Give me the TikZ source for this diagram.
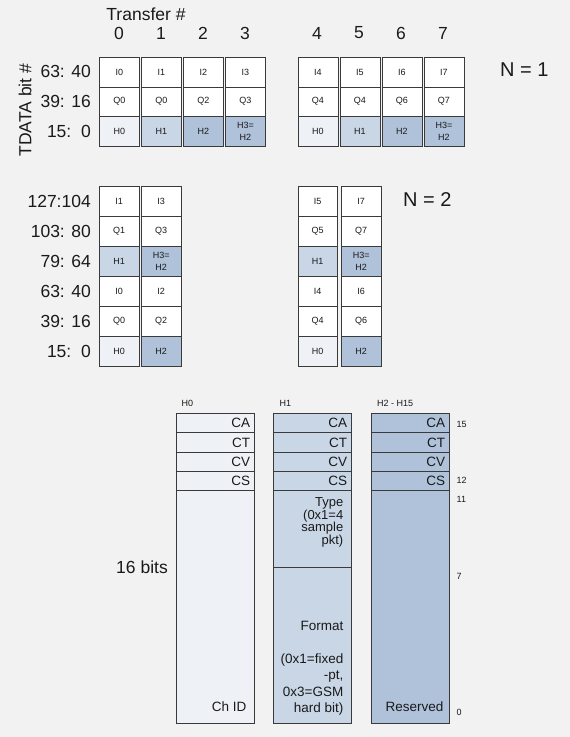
\documentclass[tikz,border=0pt]{standalone}
\usepackage{fontspec}
\setmainfont{Liberation Sans}
\definecolor{bg}{HTML}{F2F2F2}
\definecolor{hzero}{HTML}{EEF2F7}
\definecolor{hone}{HTML}{C9D6E6}
\definecolor{htwo}{HTML}{AFC2DA}
\definecolor{ink}{HTML}{1A1A1A}
\definecolor{edge}{HTML}{3A3A3A}
\begin{document}
\begin{tikzpicture}[x=1pt,y=-1pt,
  every node/.style={text=ink},
  cell/.style={draw=edge, line width=0.9pt, minimum width=40pt, minimum height=29.5pt,
    inner sep=0pt, anchor=north west, font=\fontsize{9}{11.5}\selectfont, align=center},
  mcell/.style={cell, minimum width=39.5pt, minimum height=30pt},
  big/.style={font=\fontsize{17.5}{20}\selectfont},
  rowlab/.style={big, anchor=east, inner sep=0pt},
  small/.style={font=\fontsize{9}{11}\selectfont, inner sep=0pt},
  hrow/.style={draw=edge, line width=0.9pt, minimum width=77.5pt, minimum height=19.3pt,
    anchor=north west, inner xsep=0pt, inner ysep=0pt, text width=70pt, align=right,
    font=\fontsize{13.5}{14}\selectfont},
  hbox/.style={draw=edge, line width=0.9pt, minimum width=77.5pt, anchor=north west, inner sep=0pt},
  htext/.style={font=\fontsize{13.5}{14}\selectfont, inner sep=0pt, align=right}
]
\fill[bg] (0,0) rectangle (570,737);
\useasboundingbox (0,0) rectangle (570,737);

% ---------- headings ----------
\node[big, inner sep=0pt] (transfer) at (146,14) {Transfer \#};
\foreach \i/\x in {0/119,1/161,2/203,3/245,4/317,5/359,6/401,7/443}
  \node[big, inner sep=0pt] (d\i) at (\x,33) {\i};
\node[big, rotate=90, inner sep=0pt] (tdata) at (25,110) {TDATA bit \#};
\node[font=\fontsize{20}{22}\selectfont, anchor=west, inner sep=0pt] (n1) at (500,70) {N = 1};
\node[font=\fontsize{20}{22}\selectfont, anchor=west, inner sep=0pt] (n2) at (403,200) {N = 2};

% ---------- N = 1 grid ----------
\node[rowlab] (ra) at (91,71) {63: 40};
\node[rowlab] (rb) at (91,101) {39: 16};
\node[rowlab] (rc) at (91,131) {15:\ \ 0};
\foreach \i/\x/\a/\b/\h/\f in {0/99/I0/Q0/H0/hzero, 1/141/I1/Q0/H1/hone,
   2/183/I2/Q2/H2/htwo, 3/225/I3/Q3/{H3=\\H2}/htwo,
   4/297.5/I4/Q4/H0/hzero, 5/339.5/I5/Q4/H1/hone,
   6/381.5/I6/Q6/H2/htwo, 7/423.5/I7/Q7/{H3=\\H2}/htwo} {
  \node[cell, fill=white] (t\i a) at (\x,57) {\a};
  \node[cell, fill=white] (t\i b) at (\x,86.5) {\b};
  \node[cell, fill=\f] (t\i c) at (\x,116) {\h};
}

% ---------- N = 2 grid ----------
\node[rowlab] (ma) at (91,201) {127:104};
\node[rowlab] (mb) at (91,231) {103: 80};
\node[rowlab] (mc) at (91,261) {79: 64};
\node[rowlab] (md) at (91,291) {63: 40};
\node[rowlab] (me) at (91,321) {39: 16};
\node[rowlab] (mf) at (91,351) {15:\ \ 0};
\foreach \i/\x/\a/\b/\c/\fc/\d/\e/\g/\fg in {
   0/99/I1/Q1/H1/hone/I0/Q0/H0/hzero,
   1/141/I3/Q3/{H3=\\H2}/htwo/I2/Q2/H2/htwo,
   2/297.5/I5/Q5/H1/hone/I4/Q4/H0/hzero,
   3/341/I7/Q7/{H3=\\H2}/htwo/I6/Q6/H2/htwo} {
  \node[mcell, fill=white] (m\i a) at (\x,186) {\a};
  \node[mcell, fill=white] (m\i b) at (\x,216) {\b};
  \node[mcell, fill=\fc] (m\i c) at (\x,246) {\c};
  \node[mcell, fill=white] (m\i d) at (\x,276) {\d};
  \node[mcell, fill=white] (m\i e) at (\x,306) {\e};
  \node[mcell, fill=\fg] (m\i f) at (\x,336) {\g};
}

% ---------- header word formats ----------
\node[small, anchor=west] (lh0) at (181.5,403) {H0};
\node[small, anchor=west] (lh1) at (279.5,403) {H1};
\node[small, anchor=west] (lh2) at (377,403) {H2 - H15};

\foreach \k/\x/\f in {0/176/hzero, 1/273/hone, 2/371/htwo} {
  \node[hrow, fill=\f] (h\k a) at (\x,413) {CA};
  \node[hrow, fill=\f] (h\k b) at (\x,432.3) {CT};
  \node[hrow, fill=\f] (h\k c) at (\x,451.7) {CV};
  \node[hrow, fill=\f] (h\k d) at (\x,471) {CS};
}
\node[hbox, fill=hzero, minimum height=233pt] (h0e) at (176,490) {};
\node[hbox, fill=hone, minimum height=77pt] (h1e) at (273,490) {};
\node[hbox, fill=hone, minimum height=156pt] (h1f) at (273,567) {};
\node[hbox, fill=htwo, minimum height=233pt] (h2e) at (371,490) {};

\node[htext, anchor=east] (chid) at (246.5,707) {Ch ID};
\node[htext, anchor=east] (resv) at (443.5,707) {Reserved};
\node[htext, anchor=north east, font=\fontsize{13}{14}\selectfont] (type) at (343.5,497.5)
  {Type\\[-1.5pt](0x1=4\\[-1.5pt]sample\\[-1.5pt]pkt)};
\node[htext, anchor=north east, font=\fontsize{13.5}{16.3}\selectfont] (fmt) at (343.5,621.5)
  {Format\\[16.3pt](0x1=fixed\\-pt,\\0x3=GSM\\hard bit)};

\node[big, anchor=east, inner sep=0pt] (bits) at (168,567) {16 bits};

\node[small, anchor=west] (b15) at (456.5,424) {15};
\node[small, anchor=west] (b12) at (456.5,480) {12};
\node[small, anchor=west] (b11) at (456.5,499) {11};
\node[small, anchor=west] (b7) at (456.5,576) {7};
\node[small, anchor=west] (b0) at (456.5,712) {0};
\end{tikzpicture}
\end{document}
